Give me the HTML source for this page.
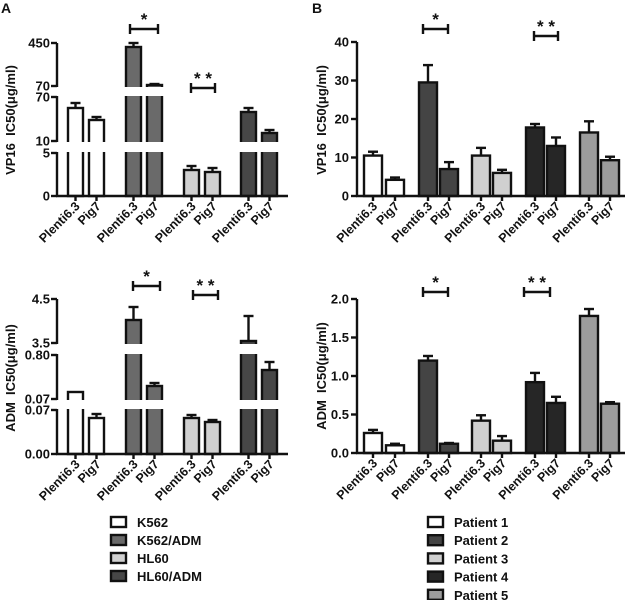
<!DOCTYPE html>
<html><head><meta charset="utf-8"><style>
html,body{margin:0;padding:0;background:#fff}
svg text{font-family:"Liberation Sans",Arial,sans-serif;font-weight:bold;fill:#111}
</style></head><body>
<svg id="s" width="630" height="600" viewBox="0 0 630 600" xmlns="http://www.w3.org/2000/svg"></svg>
<script>
const s=document.getElementById('s');let h='';
const SW=2.4;
function line(x1,y1,x2,y2,w){h+=`<line x1="${x1}" y1="${y1}" x2="${x2}" y2="${y2}" stroke="#111" stroke-width="${w||SW}"/>`;}
function txt(x,y,t,sz,anc,extra){h+=`<text x="${x}" y="${y}" font-size="${sz}" text-anchor="${anc||'start'}" ${extra||''}>${t}</text>`;}
function bar(x,w,top,base,err,fill){
  h+=`<rect x="${x}" y="${top}" width="${w}" height="${base-top}" fill="${fill}" stroke="#111" stroke-width="${SW}"/>`;
  if(err<top){const c=x+w/2;line(c,top,c,err);line(c-5,err,c+5,err);}
}
function gap(x1,x2,y1,y2){h+=`<rect x="${x1}" y="${y1}" width="${x2-x1}" height="${y2-y1}" fill="#fff"/>`;}
function xlabels(ticks,base){
  ticks.forEach((c,i)=>{line(c,base,c,base+5);
    const t=i%2==0?'Plenti6.3':'Pig7';
    h+=`<text x="${c+5}" y="${base+11}" font-size="12.5" text-anchor="end" transform="rotate(-45 ${c+5} ${base+11})">${t}</text>`;});
}
function sig(x1,x2,y,star){line(x1,y,x2,y);line(x1,y-5,x1,y+5);line(x2,y-5,x2,y+5);txt((x1+x2)/2,y-4,star,17,'middle');}
function ytitle(x,y,t){h+=`<text x="${x}" y="${y}" font-size="13" text-anchor="middle" transform="rotate(-90 ${x} ${y})">${t}</text>`;}

const ax=[68,89,126,147,184,205,241,262],aw=15;
const colA=['#fff','#fff','#6a6a6a','#6a6a6a','#d0d0d0','#d0d0d0','#474747','#474747'];
function panelA(base,topsE,gaps,ticks,title,ty){
  topsE.forEach((v,i)=>bar(ax[i],aw,v[0],base,v[1],colA[i]));
  gaps.forEach(g=>gap(50,290,g[0],g[1]));
  let segs=[];let prev=base;
  const gs=[...gaps].sort((a,b)=>b[0]-a[0]);
  gs.forEach(g=>{segs.push([g[1],prev]);prev=g[0];});
  segs.push([ticks[ticks.length-1][0],prev]);
  segs.forEach(sg=>line(57,sg[0],57,sg[1]));
  line(56,base,288,base);
  ticks.forEach(t=>{line(51,t[0],57,t[0]);txt(50,t[0]+4.5,t[1],13,'end');});
  xlabels(ax.map(x=>x+aw/2),base);
  ytitle(15,ty,title);
}
panelA(196,[[108,103],[120,117],[47,43],[85,84],[170,166],[172,168],[112,108],[133,130]],
  [[87,96],[142,152]],[[196,'0'],[153,'5'],[141,'10'],[97,'70'],[86,'70'],[43,'450']],'VP16&#160;&#160;IC50(μg/ml)',120);
panelA(454,[[392,392],[418,414],[320,307],[386,383],[418,415],[422,420],[341,316],[370,362]],
  [[344,354],[400,409]],[[454,'0.00'],[410,'0.07'],[399,'0.07'],[355,'0.80'],[343,'3.5'],[299,'4.5']],'ADM&#160;&#160;IC50(μg/ml)',378);
sig(130,158,29,'*');sig(191,215,88,'* *');
sig(133,160,286,'*');sig(193,218,295,'* *');

const bx=[364,386,419,440,472,493,526,547,580,601],bw=18;
const colB=['#fff','#fff','#444','#444','#d0d0d0','#d0d0d0','#262626','#262626','#9c9c9c','#9c9c9c'];
function panelB(base,scale,vals,errs,ticks,title,ty,dec){
  vals.forEach((v,i)=>bar(bx[i],bw,base-v*scale,base,base-errs[i]*scale,colB[i]));
  const top=base-ticks[ticks.length-1]*scale;
  line(357,top,357,base);line(356,base,625,base);
  ticks.forEach(t=>{const y=base-t*scale;line(351,y,357,y);txt(349,y+4.5,t.toFixed(dec),13,'end');});
  xlabels(bx.map(x=>x+bw/2),base);
  ytitle(326,ty,title);
}
panelB(196,3.85,[10.5,4.2,29.5,7,10.5,6,17.8,13,16.5,9.3],[11.5,4.8,34,8.8,12.5,6.8,18.7,15.2,19.4,10.2],[0,10,20,30,40],'VP16&#160;&#160;IC50(μg/ml)',120,0);
panelB(453,77,[0.26,0.1,1.2,0.12,0.42,0.16,0.92,0.65,1.78,0.64],[0.3,0.12,1.26,0.13,0.49,0.22,1.04,0.73,1.87,0.66],[0,0.5,1,1.5,2],'ADM&#160;&#160;IC50(μg/ml)',376,1);
sig(423,448,29,'*');sig(534,558,36,'* *');
sig(423,448,292,'*');sig(524,550,292,'* *');

const la=[['K562','#fff'],['K562/ADM','#6a6a6a'],['HL60','#d0d0d0'],['HL60/ADM','#474747']];
la.forEach((l,i)=>{const y=522+i*18;h+=`<rect x="111" y="${y-5}" width="15" height="10" fill="${l[1]}" stroke="#111" stroke-width="2.4"/>`;txt(137,y+5,l[0],13);});
const lb=[['Patient 1','#fff'],['Patient 2','#444'],['Patient 3','#d0d0d0'],['Patient 4','#262626'],['Patient 5','#9c9c9c']];
lb.forEach((l,i)=>{const y=522+i*18.2;h+=`<rect x="428" y="${y-5}" width="15" height="10" fill="${l[1]}" stroke="#111" stroke-width="2.4"/>`;txt(454,y+5,l[0],13);});
txt(1,13,'A',14);txt(312,13,'B',14);
s.innerHTML=h;
</script>
</body></html>
